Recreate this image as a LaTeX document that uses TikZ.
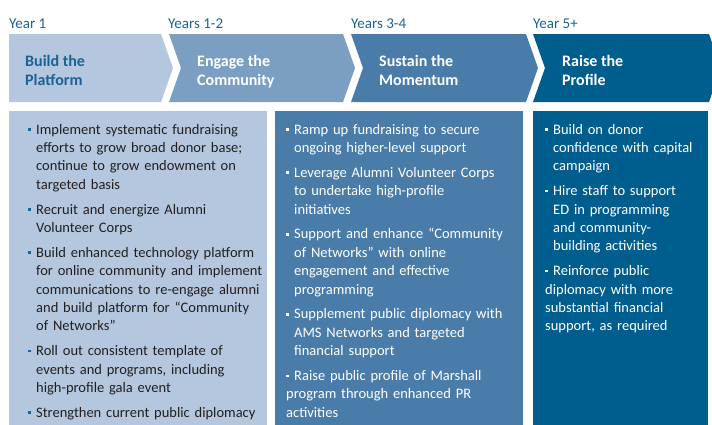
\documentclass[tikz,border=0pt]{standalone}
\usepackage{fontspec}
\setmainfont{Carlito}
\definecolor{c1}{HTML}{B4C7DE}
\definecolor{c2}{HTML}{7B9EC3}
\definecolor{c3}{HTML}{4A7CAA}
\definecolor{c4}{HTML}{005E8F}
\definecolor{ydark}{HTML}{1B6296}
\definecolor{tdark}{HTML}{231F20}
\newcommand\bulmark[1]{\makebox[8pt][l]{\raisebox{3.2pt}{\textcolor{#1}{\rule{2.6pt}{2.6pt}}}}}
\newcommand\firstitm[2]{\hangindent=8pt\hangafter=1\noindent\bulmark{#1}#2}
\newcommand\itm[2]{\par\hangindent=8pt\hangafter=1\noindent\bulmark{#1}#2}
\tikzset{
  yearlbl/.style={anchor=base west, inner sep=0pt, text=ydark, font=\fontsize{15}{18}\selectfont},
  phase/.style={anchor=base west, inner sep=0pt, align=left, font=\fontsize{16}{18.4}\selectfont\bfseries},
  body/.style={anchor=base west, inner sep=0pt, text width=300pt, font=\fontsize{14.5}{18.4}\selectfont},
}
\begin{document}
\begin{tikzpicture}[x=1pt,y=-1pt]
\useasboundingbox (0,0) rectangle (712,424);
\clip (0,0) rectangle (712,424);
% chevrons
\fill[c1] (9,34) -- (161,34) -- (173,68) -- (161,102) -- (9,102) -- cycle;
\fill[c2] (169,34) -- (343,34) -- (355,68) -- (343,102) -- (169,102) -- (181,68) -- cycle;
\fill[c3] (351,34) -- (526,34) -- (538,68) -- (526,102) -- (351,102) -- (363,68) -- cycle;
\fill[c4] (533,34) -- (709,34) -- (721,68) -- (709,102) -- (533,102) -- (545,68) -- cycle;
% boxes
\fill[c1] (9,111) rectangle (267,430);
\fill[c3] (275,111) rectangle (523,430);
\fill[c4] (533,111) rectangle (708,430);
% year labels
\node[yearlbl] (y1) at (9,28) {Year 1};
\node[yearlbl] (y2) at (168,28) {Years 1-2};
\node[yearlbl] (y3) at (351,28) {Years 3-4};
\node[yearlbl] (y4) at (533,28) {Year 5+};
% phase titles
\node[phase, text=ydark] (p1) at (25,85) {Build the\\Platform};
\node[phase, text=white] (p2) at (197,85) {Engage the\\Community};
\node[phase, text=white] (p3) at (379,85) {Sustain the\\Momentum};
\node[phase, text=white] (p4) at (562,85) {Raise the\\Profile};
% body texts
\node[body, text=tdark] (b1) at (28,134) {\setlength{\parskip}{6.4pt}%
\firstitm{ydark}{Implement systematic fundraising\newline efforts to grow broad donor base;\newline continue to grow endowment on\newline targeted basis}
\itm{ydark}{Recruit and energize Alumni\newline Volunteer Corps}
\itm{ydark}{Build enhanced technology platform\newline for online community and implement\newline communications to re-engage alumni\newline and build platform for “Community\newline of Networks”}
\itm{ydark}{Roll out consistent template of\newline events and programs, including\newline high-profile gala event}
\itm{ydark}{Strengthen current public diplomacy}};
\node[body, text=white] (b2) at (286,134) {\setlength{\parskip}{6.4pt}%
\firstitm{white}{Ramp up fundraising to secure\newline ongoing higher-level support}
\itm{white}{Leverage Alumni Volunteer Corps\newline to undertake high-profile\newline initiatives}
\itm{white}{Support and enhance “Community\newline of Networks” with online\newline engagement and effective\newline programming}
\itm{white}{Supplement public diplomacy with\newline AMS Networks and targeted\newline financial support}
\itm{white}{Raise public profile of Marshall\newline program through enhanced PR\newline activities}};
\node[body, text=white] (b3) at (545,134) {\setlength{\parskip}{6.4pt}%
\firstitm{white}{Build on donor\newline confidence with capital\newline campaign}
\itm{white}{Hire staff to support\newline ED in programming\newline and community-\newline building activities}
\itm{white}{Reinforce public\newline diplomacy with more\newline substantial financial\newline support, as required}};
\end{tikzpicture}
\end{document}
